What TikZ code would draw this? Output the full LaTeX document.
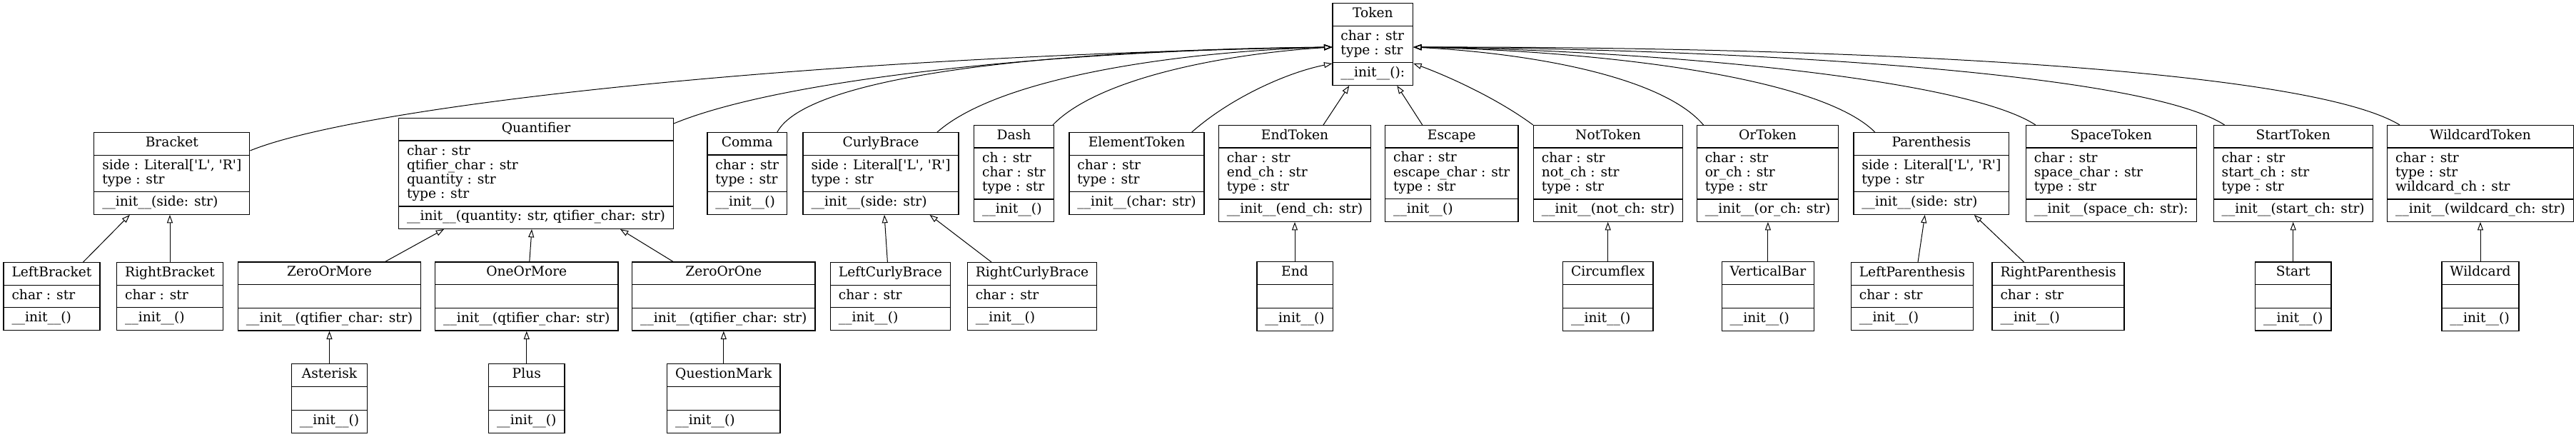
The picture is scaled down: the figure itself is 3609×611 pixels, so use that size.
\documentclass[tikz,border=0pt]{standalone}
\usepackage{fontspec}
\usetikzlibrary{shapes.multipart,arrows.meta,calc}
\newfontfamily\umlfont{DejaVu Serif}
\newcommand\tl[1]{\begin{tabular}{@{}l@{}}#1\end{tabular}}
\newcommand\emp{\rule{0pt}{12pt}}
\newcommand\qq{\textquotesingle}
\newcommand\ini{\_\_init\_\_}
\newcommand\cls[6]{\node[clsbox] (#1) at (#2,#3) {\tl{#4}\nodepart{two}\tl{#5}\nodepart{three}\tl{#6}};}
\tikzset{
  clsbox/.style={draw=black, line width=1.0pt, rectangle split, rectangle split parts=3,
    rectangle split part align={center,left,left}, inner xsep=8.6pt, inner ysep=3.75pt,
    font={\umlfont\fontsize{14}{15}\selectfont}, fill=white},
  inh/.style={-{Triangle[open,length=8.5pt,width=6pt]}, line width=0.75pt},
}
\begin{document}
\begin{tikzpicture}[x=0.75pt,y=-0.75pt]
\useasboundingbox (0,0) rectangle (3609,611);
% Token
\cls{token}{1923.3}{62}{Token}{char : str\\type : str}{\ini():}
% row 1
\cls{bracket}{240.8}{243}{Bracket}{side : Literal[\qq L\qq, \qq R\qq]\\type : str}{\ini(side: str)}
\cls{quant}{751}{243}{Quantifier}{char : str\\qtifier\_char : str\\quantity : str\\type : str}{\ini(quantity: str, qtifier\_char: str)}
\cls{comma}{1046.8}{243}{Comma}{char : str\\type : str}{\ini()}
\cls{curly}{1234}{243}{CurlyBrace}{side : Literal[\qq L\qq, \qq R\qq]\\type : str}{\ini(side: str)}
\cls{dash}{1420.5}{243}{Dash}{ch : str\\char : str\\type : str}{\ini()}
\cls{elem}{1592.5}{243}{ElementToken}{char : str\\type : str}{\ini(char: str)}
\cls{endtok}{1814}{243}{EndToken}{char : str\\end\_ch : str\\type : str}{\ini(end\_ch: str)}
\cls{escape}{2033.8}{243}{Escape}{char : str\\escape\_char : str\\type : str}{\ini()}
\cls{nottok}{2253}{243}{NotToken}{char : str\\not\_ch : str\\type : str}{\ini(not\_ch: str)}
\cls{ortok}{2476.5}{243}{OrToken}{char : str\\or\_ch : str\\type : str}{\ini(or\_ch: str)}
\cls{paren}{2705.8}{243}{Parenthesis}{side : Literal[\qq L\qq, \qq R\qq]\\type : str}{\ini(side: str)}
\cls{space}{2957.8}{243}{SpaceToken}{char : str\\space\_char : str\\type : str}{\ini(space\_ch: str):}
\cls{starttok}{3212.7}{243}{StartToken}{char : str\\start\_ch : str\\type : str}{\ini(start\_ch: str)}
\cls{wildtok}{3475}{243}{WildcardToken}{char : str\\type : str\\wildcard\_ch : str}{\ini(wildcard\_ch: str)}
% row 2
\cls{lbr}{72.5}{415}{LeftBracket}{char : str}{\ini()}
\cls{rbr}{238}{415}{RightBracket}{char : str}{\ini()}
\cls{zom}{461.5}{415}{ZeroOrMore}{\emp}{\ini(qtifier\_char: str)}
\cls{oom}{737.8}{415}{OneOrMore}{\emp}{\ini(qtifier\_char: str)}
\cls{zoo}{1013.8}{415}{ZeroOrOne}{\emp}{\ini(qtifier\_char: str)}
\cls{lcb}{1247.4}{415}{LeftCurlyBrace}{char : str}{\ini()}
\cls{rcb}{1446}{415}{RightCurlyBrace}{char : str}{\ini()}
\cls{endn}{1814}{415}{End}{\emp}{\ini()}
\cls{circ}{2252.7}{415}{Circumflex}{\emp}{\ini()}
\cls{vbar}{2476.9}{415}{VerticalBar}{\emp}{\ini()}
\cls{lpar}{2679}{415}{LeftParenthesis}{char : str}{\ini()}
\cls{rpar}{2883.5}{415}{RightParenthesis}{char : str}{\ini()}
\cls{startn}{3212.7}{415}{Start}{\emp}{\ini()}
\cls{wildn}{3475}{415}{Wildcard}{\emp}{\ini()}
% row 3
\cls{ast}{461.5}{558}{Asterisk}{\emp}{\ini()}
\cls{plus}{737.8}{558}{Plus}{\emp}{\ini()}
\cls{qmark}{1013.8}{558}{QuestionMark}{\emp}{\ini()}
% edges to Token
\draw[inh] ($(bracket.east)+(0,-32)$) .. controls +(149,-61) and +(-765,14) .. ($(token.west)+(0,4)$);
\draw[inh] ($(quant.north east)+(0,8)$) .. controls +(158,-65) and +(-365,4) .. ($(token.west)+(0,4)$);
\draw[inh] ($(comma.north)+(42,0)$) .. controls +(41,-77) and +(-415,4) .. ($(token.west)+(0,4)$);
\draw[inh] ($(curly.north)+(79,0)$) .. controls +(87,-77) and +(-215,6) .. ($(token.west)+(0,4)$);
\draw[inh] ($(dash.north east)+(-2,0)$) .. controls +(65,-67) and +(-145,9) .. ($(token.west)+(0,4)$);
\draw[inh] ($(elem.north east)+(-18,0)$) .. controls +(53,-47) and +(-65,13) .. ($(token.south west)+(0,-31)$);
\draw[inh] ($(endtok.north)+(40,0)$) -- ($(token.south)+(-33,0)$);
\draw[inh] ($(escape.north)+(-41,0)$) -- ($(token.south)+(34,0)$);
\draw[inh] (nottok.north west) .. controls +(-50,-37) and +(49,18) .. ($(token.south east)+(0,-31)$);
\draw[inh] ($(ortok.north)+(-90,0)$) .. controls +(-57,-67) and +(169,9) .. ($(token.east)+(0,4)$);
\draw[inh] ($(paren.north)+(-79,0)$) .. controls +(-77,-77) and +(269,6) .. ($(token.east)+(0,4)$);
\draw[inh] ($(space.north west)+(14,0)$) .. controls +(-102,-67) and +(319,4) .. ($(token.east)+(0,4)$);
\draw[inh] ($(starttok.north west)+(16,0)$) .. controls +(-119,-77) and +(419,2) .. ($(token.east)+(0,4)$);
\draw[inh] ($(wildtok.north west)+(18,0)$) .. controls +(-135,-82) and +(569,-1) .. ($(token.east)+(0,4)$);
% row 2 edges
\draw[inh] ($(lbr.north)+(44,0)$) -- ($(bracket.south)+(-59,0)$);
\draw[inh] (rbr.north) -- (rbr.north |- bracket.south);
\draw[inh] ($(zom.north)+(78.5,0)$) -- ($(quant.south)+(-129,0)$);
\draw[inh] ($(oom.north)+(4,0)$) -- ($(quant.south)+(-6,0)$);
\draw[inh] ($(zoo.north)+(-71,0)$) -- ($(quant.south)+(118,0)$);
\draw[inh] ($(lcb.north)+(-4,0)$) -- ($(curly.south)+(5,0)$);
\draw[inh] ($(rcb.north)+(-57,0)$) -- ($(curly.south)+(68.5,0)$);
\draw[inh] (endn.north) -- (endn.north |- endtok.south);
\draw[inh] (circ.north) -- (circ.north |- nottok.south);
\draw[inh] (vbar.north) -- (vbar.north |- ortok.south);
\draw[inh] ($(lpar.north)+(8,0)$) -- ($(paren.south)+(-9,0)$);
\draw[inh] ($(rpar.north)+(-48,0)$) -- ($(paren.south)+(60,0)$);
\draw[inh] (startn.north) -- (startn.north |- starttok.south);
\draw[inh] (wildn.north) -- (wildn.north |- wildtok.south);
% row 3 edges
\draw[inh] (ast.north) -- (ast.north |- zom.south);
\draw[inh] (plus.north) -- (plus.north |- oom.south);
\draw[inh] (qmark.north) -- (qmark.north |- zoo.south);
\end{tikzpicture}
\end{document}
